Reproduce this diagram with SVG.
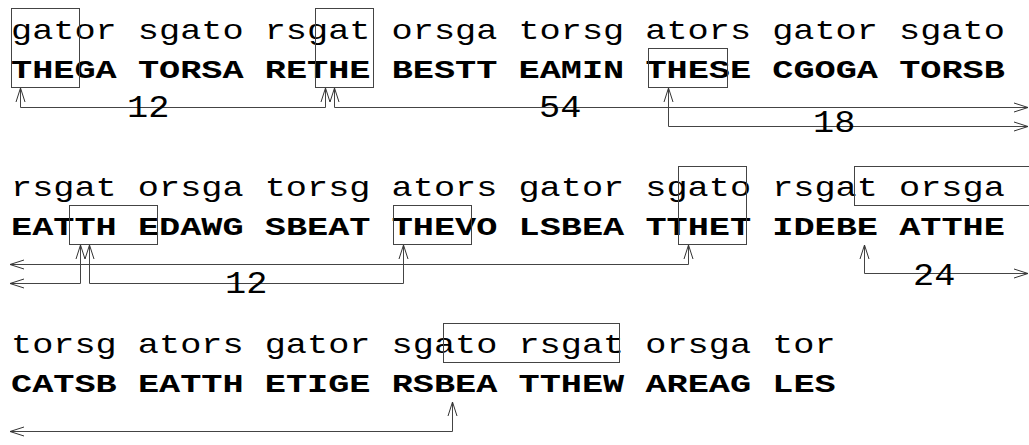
<svg xmlns="http://www.w3.org/2000/svg" width="1029" height="445" viewBox="0 0 1029 445">
  <style>
    .plain { font-family: "Liberation Mono", "DejaVu Sans Mono", monospace; font-size: 35.25px; fill: #000; }
    .cipher { font-family: "Liberation Mono", "DejaVu Sans Mono", monospace; font-size: 35.25px; font-weight: bold; fill: #000; }
    .num { font-family: "Liberation Mono", "DejaVu Sans Mono", monospace; font-size: 35.25px; fill: #000; }
    .box { fill: none; stroke: #444; stroke-width: 1; }
    .link { fill: none; stroke: #444; stroke-width: 1; marker-start: url(#tail); marker-end: url(#head); }
    .link1 { fill: none; stroke: #444; stroke-width: 1; marker-start: url(#tail); marker-end: url(#head); }
  </style>
  <defs>
    <marker id="head" viewBox="-15 -6 16 12" refX="0" refY="0" markerWidth="16" markerHeight="12" markerUnits="userSpaceOnUse" orient="auto">
      <path d="M-14,-4.5 L0,0 L-14,4.5" fill="none" stroke="#333" stroke-width="1"/>
    </marker>
    <marker id="tail" viewBox="-15 -6 16 12" refX="0" refY="0" markerWidth="16" markerHeight="12" markerUnits="userSpaceOnUse" orient="auto-start-reverse">
      <path d="M-14,-4.5 L0,0 L-14,4.5" fill="none" stroke="#333" stroke-width="1"/>
    </marker>
  </defs>
  <rect width="1029" height="445" fill="#fff"/>

  <!-- line 1: key stream over ciphertext -->
  <g id="row1">
    <text class="plain" transform="translate(11,39) scale(1,0.81)">gator sgato rsgat orsga torsg ators gator sgato</text>
    <text class="cipher" transform="translate(11,78) scale(1,0.72)">THEGA TORSA RETHE BESTT EAMIN THESE CGOGA TORSB</text>
  </g>
  <!-- line 2 -->
  <g id="row2">
    <text class="plain" transform="translate(11,196) scale(1,0.81)">rsgat orsga torsg ators gator sgato rsgat orsga</text>
    <text class="cipher" transform="translate(11,235) scale(1,0.72)">EATTH EDAWG SBEAT THEVO LSBEA TTHET IDEBE ATTHE</text>
  </g>
  <!-- line 3 -->
  <g id="row3">
    <text class="plain" transform="translate(11,353) scale(1,0.81)">torsg ators gator sgato rsgat orsga tor</text>
    <text class="cipher" transform="translate(11,392) scale(1,0.72)">CATSB EATTH ETIGE RSBEA TTHEW AREAG LES</text>
  </g>

  <!-- repeated-trigram boxes -->
  <g id="boxA"><rect class="box" x="11.5" y="8.5" width="68" height="79"/></g>
  <g id="boxB"><rect class="box" x="315.5" y="8.5" width="58" height="79"/></g>
  <g id="boxC"><rect class="box" x="648.5" y="48.5" width="79" height="39"/></g>
  <g id="boxD"><rect class="box" x="69.5" y="205.5" width="88" height="39"/></g>
  <g id="boxE"><rect class="box" x="393.5" y="205.5" width="78" height="39"/></g>
  <g id="boxF"><rect class="box" x="678.5" y="166.5" width="68" height="78"/></g>
  <g id="boxG"><rect class="box" x="854.5" y="166.5" width="200" height="39"/></g>
  <g id="boxH"><rect class="box" x="443.5" y="323.5" width="176" height="39"/></g>

  <!-- distance connectors -->
  <g id="connectors">
    <path class="link" d="M20.5,88 V107.5 H325.5 V88"/>
    <path class="link" d="M334.5,88 V107.5 H1028"/>
    <path class="link" d="M668.5,88 V126.5 H1028"/>
    <path class="link" d="M688.5,245 V264.5 H10"/>
    <path class="link" d="M89.5,245 V283.5 H403.5 V245"/>
    <path class="link" d="M80.5,245 V283.5 H10"/>
    <path class="link" d="M864.5,245 V273.5 H1028"/>
    <path class="link" d="M452.5,402 V431.5 H10"/>
  </g>

  <!-- distance labels -->
  <g id="labels">
    <text class="num" transform="translate(127,117) scale(1,0.87)">12</text>
    <text class="num" transform="translate(539,117) scale(1,0.87)">54</text>
    <text class="num" transform="translate(813,132) scale(1,0.87)">18</text>
    <text class="num" transform="translate(225,293) scale(1,0.87)">12</text>
    <text class="num" transform="translate(913,285) scale(1,0.87)">24</text>
  </g>
</svg>
